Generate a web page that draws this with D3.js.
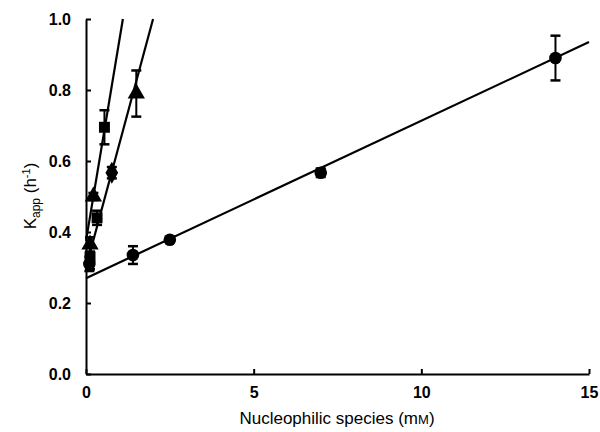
<!DOCTYPE html>
<html><head><meta charset="utf-8">
<script src="https://cdn.jsdelivr.net/npm/d3@7"></script>
<style>body{margin:0;background:#fff}svg{display:block}</style>
</head><body>
<svg id="c" width="600" height="432"></svg>
<script>
// x tick values and y tick values
const xTicks = [0, 5, 10, 15];
const yTicks = [0.0, 0.2, 0.4, 0.6, 0.8, 1.0];
// series points: x (mM), y (h^-1), error
const circleX = [0.1, 1.4, 2.5, 7.0, 14.0];
const circleY = [0.31, 0.335, 0.378, 0.567, 0.89];
const circleE = [0.02, 0.025, 0.006, 0.012, 0.063];
const squareX = [0.12, 0.33, 0.55];
const squareY = [0.33, 0.44, 0.695];
const squareE = [0.035, 0.02, 0.048];
const triangleX = [0.12, 0.22, 1.5];
const triangleY = [0.365, 0.5, 0.79];
const triangleE = [0.02, 0.01, 0.065];
const diamondX = [0.77];
const diamondY = [0.567];
const diamondE = [0.016];
// fitted lines: [x0, y0, x1, y1]
const fitCircle = [0, 0.27, 15, 0.935];
const fitSteep = [0, 0.375, 1.1, 1.0];
const fitMid = [0, 0.30, 2.0, 1.0];

const svg = d3.select("#c");
const x = d3.scaleLinear().domain([0, 15]).range([86, 589]);
const y = d3.scaleLinear().domain([0, 1]).range([374, 19]);
const font = "'Liberation Sans', Arial, sans-serif";

// axes
const xAxis = d3.axisBottom(x).tickValues(xTicks).tickSizeInner(-5).tickSizeOuter(0).tickPadding(13)
  .tickFormat(d3.format("d"));
const gx = svg.append("g").attr("transform", `translate(0,${y(0)})`).call(xAxis);
const yAxis = d3.axisLeft(y).tickValues(yTicks).tickSizeInner(-5).tickSizeOuter(0).tickPadding(15)
  .tickFormat(d3.format(".1f"));
const gy = svg.append("g").attr("transform", `translate(${x(0)},0)`).call(yAxis);
[gx, gy].forEach(g => {
  g.select(".domain").attr("stroke", "#000").attr("stroke-width", 2);
  g.selectAll(".tick line").attr("stroke", "#000").attr("stroke-width", 2);
  g.selectAll(".tick text").attr("fill", "#000").style("font-family", font)
    .style("font-size", "16px").style("font-weight", "bold");
});

// fit lines
[fitCircle, fitSteep, fitMid].forEach(f => {
  svg.append("line").attr("x1", x(f[0])).attr("y1", y(f[1])).attr("x2", x(f[2])).attr("y2", y(f[3]))
    .attr("stroke", "#000").attr("stroke-width", 2.2);
});

function series(xs, ys, es, sym, size) {
  const data = xs.map((v, i) => ({x: v, y: ys[i], e: es[i]}));
  const g = svg.append("g");
  data.forEach(d => {
    g.append("line").attr("x1", x(d.x)).attr("x2", x(d.x)).attr("y1", y(d.y - d.e)).attr("y2", y(d.y + d.e))
      .attr("stroke", "#000").attr("stroke-width", 2);
    [d.y - d.e, d.y + d.e].forEach(v => g.append("line").attr("x1", x(d.x) - 5).attr("x2", x(d.x) + 5)
      .attr("y1", y(v)).attr("y2", y(v)).attr("stroke", "#000").attr("stroke-width", 2.5));
    g.append("path").attr("d", d3.symbol().type(sym).size(size)())
      .attr("transform", `translate(${x(d.x)},${y(d.y)})`).attr("fill", "#000");
  });
}
series(circleX, circleY, circleE, d3.symbolCircle, 125);
series(squareX, squareY, squareE, d3.symbolSquare, 120);
series(triangleX, triangleY, triangleE, d3.symbolTriangle, 130);
series(diamondX, diamondY, diamondE, d3.symbolDiamond, 140);

// axis titles
const xt = svg.append("text").attr("x", 337).attr("y", 424).attr("text-anchor", "middle")
  .style("font-family", font).style("font-size", "17px").attr("fill", "#000");
xt.append("tspan").text("Nucleophilic species (m");
xt.append("tspan").style("font-size", "13px").text("M");
xt.append("tspan").text(")");

const yt = svg.append("text").attr("transform", "translate(36,196) rotate(-90)").attr("text-anchor", "middle")
  .style("font-family", font).style("font-size", "17px").attr("fill", "#000");
yt.append("tspan").text("K");
yt.append("tspan").attr("dy", 4).style("font-size", "12px").text("app");
yt.append("tspan").attr("dy", -4).text(" (h");
yt.append("tspan").attr("dy", -6).style("font-size", "11px").text("-1");
yt.append("tspan").attr("dy", 6).text(")");
</script>
</body></html>
